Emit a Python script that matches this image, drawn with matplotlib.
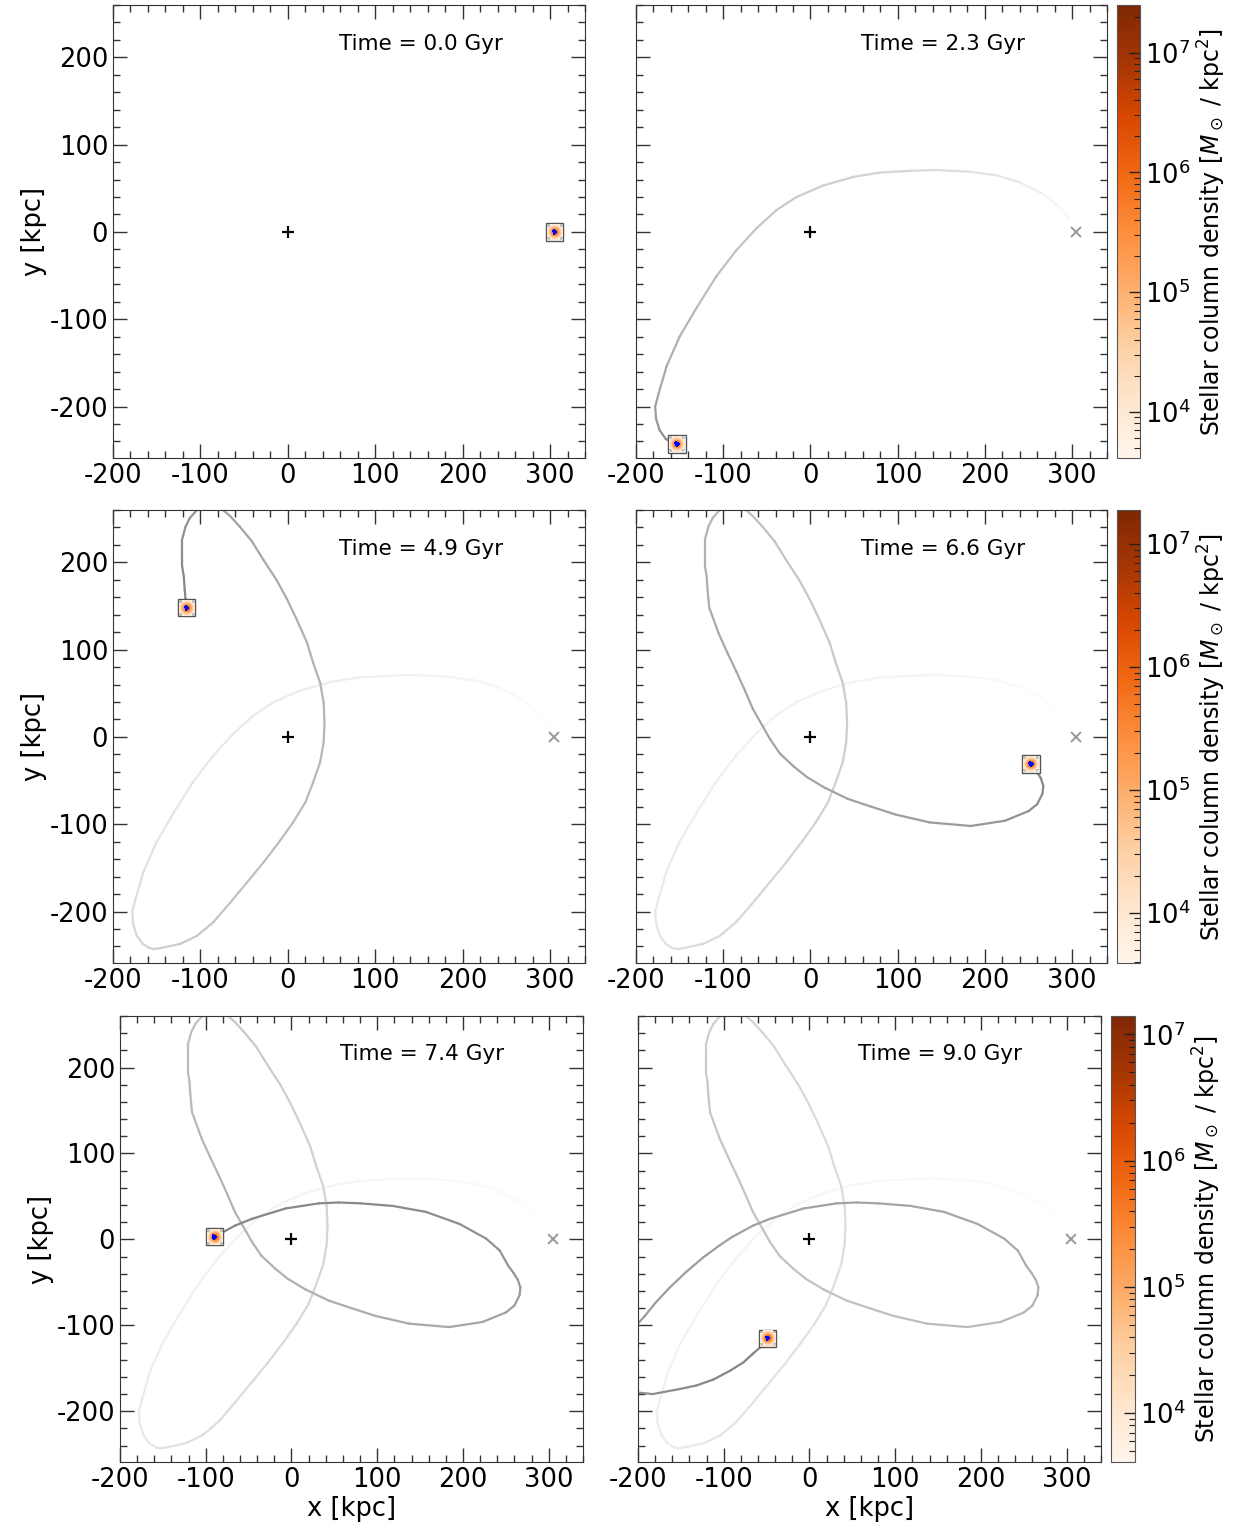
import numpy as np
import matplotlib
matplotlib.use("Agg")
import matplotlib.pyplot as plt
from matplotlib.colors import LogNorm
from matplotlib.collections import LineCollection
from matplotlib.patches import Rectangle
from matplotlib.ticker import MultipleLocator, LogLocator
import matplotlib.cm as cm

plt.rcParams['font.family'] = ['DejaVu Sans']
plt.rcParams['axes.unicode_minus'] = False
plt.rcParams['mathtext.fontset'] = 'dejavusans'

# ---------------- data ----------------
snap_times = [0.0, 2.3, 4.9, 6.6, 7.4, 9.0]

orbit_t = [0.00, 0.15, 0.29, 0.44, 0.59, 0.71, 0.80, 0.90, 0.96, 1.03, 1.09, 1.15, 1.20,
           1.24, 1.28, 1.34, 1.41, 1.50, 1.58, 1.69, 1.81, 1.89, 1.98, 2.06, 2.15, 2.24, 2.30,
           2.36, 2.53, 2.65, 2.74, 2.82, 2.89, 2.96, 3.04, 3.09, 3.15, 3.19, 3.23, 3.27,
           3.30, 3.34, 3.38, 3.42, 3.47, 3.54, 3.60, 3.66, 3.75, 3.82, 3.91, 3.98, 4.03,
           4.07, 4.15, 4.24, 4.32, 4.42, 4.51, 4.60, 4.67, 4.73, 4.77, 4.82, 4.86, 4.90,
           4.97, 5.01, 5.05, 5.09, 5.13, 5.19, 5.22, 5.25, 5.28, 5.32, 5.37, 5.42, 5.48,
           5.58, 5.72, 5.91, 6.09, 6.20, 6.32, 6.40, 6.48, 6.54, 6.60,
           6.73, 6.82, 6.95, 7.05, 7.12, 7.17, 7.20, 7.23, 7.29, 7.34, 7.36, 7.40,
           7.43, 7.48, 7.53, 7.60, 7.66, 7.72, 7.76, 7.84, 7.94, 8.08, 8.22, 8.31, 8.37,
           8.49, 8.65, 8.74, 8.82, 8.89, 8.94, 8.96, 8.98, 9.00]
orbit_x = [305, 297, 285, 266, 240, 213, 182, 144, 114, 79, 49, 14, -16,
           -39, -62, -85, -108, -130, -150, -165, -174, -178, -177, -173, -166, -158, -153,
           -146, -123, -104, -85, -66, -47, -28, -9, 6, 20, 29, 37, 41,
           42, 41, 37, 29, 22, 10, -1, -13, -28, -41, -55, -66, -74,
           -80, -89, -98, -104, -112, -117, -121, -121, -121, -119, -118, -117, -116,
           -105, -95, -85, -75, -66, -46, -35, -19, -4, 16, 43, 70, 98,
           137, 184, 223, 250, 260, 266, 267, 264, 259, 253,
           243, 227, 196, 157, 118, 80, 55, 32, -7, -46, -66, -90,
           -105, -124, -144, -163, -179, -192, -202, -212, -220, -223, -218, -210, -202,
           -183, -151, -132, -112, -93, -77, -66, -58, -49]
orbit_y = [0, 15, 29, 44, 57, 65, 69, 71, 70, 68, 63, 53, 40,
           25, 4, -21, -51, -86, -120, -154, -185, -200, -214, -227, -237, -242, -243,
           -242, -237, -228, -212, -190, -167, -144, -119, -98, -75, -52, -29, -6,
           16, 39, 62, 85, 108, 135, 158, 180, 203, 224, 241, 253, 260,
           265, 268, 265, 260, 251, 241, 226, 211, 196, 184, 169, 158, 148,
           118, 96, 75, 53, 32, -3, -19, -34, -46, -58, -71, -80, -89,
           -98, -102, -96, -85, -77, -65, -56, -47, -39, -31,
           -13, 1, 18, 32, 39, 42, 43, 42, 36, 24, 16, 3,
           -7, -21, -38, -56, -73, -89, -100, -116, -135, -155, -170, -177, -178,
           -180, -174, -170, -163, -153, -143, -133, -126, -115]

start_pos = [305, 0]
host_pos = [0, 0]

cbar_ranges = [(4.1e3, 2.5e7), (3.9e3, 1.9e7), (4.1e3, 1.4e7)]

blob_density = [
    [3e3, 6e3, 1.0e4, 1.3e4, 1.0e4, 6e3, 3e3],
    [6e3, 2.0e4, 6e4, 1.0e5, 6e4, 2.0e4, 6e3],
    [1.0e4, 6e4, 4e5, 9e5, 4e5, 6e4, 1.0e4],
    [1.3e4, 1.0e5, 9e5, 3e6, 9e5, 1.0e5, 1.3e4],
    [1.0e4, 6e4, 4e5, 9e5, 4e5, 6e4, 1.0e4],
    [6e3, 2.0e4, 6e4, 1.0e5, 6e4, 2.0e4, 6e3],
    [3e3, 6e3, 1.0e4, 1.3e4, 1.0e4, 6e3, 3e3]]
star_dx = [-2.0, -1.0, 0.0, 1.0, 2.0, 0.0, -1.0, 1.0]
star_dy = [1.0, 2.0, 0.0, -1.0, 0.0, -2.0, -1.0, 1.0]

x_ticks = [-200, -100, 0, 100, 200, 300]
y_ticks = [-200, -100, 0, 100, 200]

# ---------------- layout ----------------
W, H = 1243, 1534
fig = plt.figure(figsize=(W / 100, H / 100), dpi=100)


def px(x0, x1, y0, y1):
    return [x0 / W, 1 - y1 / H, (x1 - x0) / W, (y1 - y0) / H]


rows_y = [(5, 458), (510, 963), (1016, 1462)]
cols_x = [[(113, 585), (636, 1107), (1117, 1140)],
          [(113, 585), (636, 1107), (1117, 1140)],
          [(120, 583), (638, 1101), (1111, 1135)]]

ot = np.array(orbit_t)
ox = np.array(orbit_x, dtype=float)
oy = np.array(orbit_y, dtype=float)
cmap = plt.get_cmap('Oranges')

for r in range(3):
    y0, y1 = rows_y[r]
    norm = LogNorm(vmin=cbar_ranges[r][0], vmax=cbar_ranges[r][1])
    for c in range(2):
        k = 2 * r + c
        T = snap_times[k]
        x0, x1 = cols_x[r][c]
        ax = fig.add_axes(px(x0, x1, y0, y1))

        sel = ot <= T + 1e-6
        px_, py_, pt_ = ox[sel], oy[sel], ot[sel]
        if len(px_) > 1:
            pts = np.column_stack([px_, py_]).reshape(-1, 1, 2)
            segs = np.concatenate([pts[:-1], pts[1:]], axis=1)
            tmid = 0.5 * (pt_[:-1] + pt_[1:])
            alpha = 0.48 * (tmid / T) ** 1.3
            grey = 1.0 - alpha
            cols = np.column_stack([grey, grey, grey, np.ones_like(grey)])
            lc = LineCollection(segs, colors=cols, linewidths=1.6, capstyle='round',
                                joinstyle='round', zorder=2)
            ax.add_collection(lc)

        ax.plot(host_pos[0], host_pos[1], marker='+', color='k', ms=8, mew=1.6,
                ls='none', zorder=3)
        ax.plot(start_pos[0], start_pos[1], marker='x', color='#999999', ms=7,
                mew=1.4, ls='none', zorder=3)

        sx, sy = px_[-1], py_[-1]
        half = 10
        ax.add_patch(Rectangle((sx - half, sy - half), 2 * half, 2 * half,
                               facecolor='white', edgecolor='#555555', lw=1.0, zorder=4))
        bd = np.ma.masked_less(np.array(blob_density), cbar_ranges[r][0])
        ax.imshow(bd, cmap=cmap, norm=norm, extent=[sx - 9, sx + 9, sy - 9, sy + 9],
                  origin='lower', interpolation='bilinear', zorder=5)
        ax.plot(sx + np.array(star_dx), sy + np.array(star_dy), 's', color='blue',
                ms=2.0, mew=0, zorder=6)
        ax.set_xlim(-200, 340)
        ax.set_ylim(-259, 260)
        ax.set_aspect('auto')

        ax.set_xticks(x_ticks)
        ax.set_yticks(y_ticks)
        ax.xaxis.set_minor_locator(MultipleLocator(20))
        ax.yaxis.set_minor_locator(MultipleLocator(20))
        ax.tick_params(which='both', direction='in', top=True, right=True,
                       labelsize=18.5, width=1.0, color='#333333')
        ax.tick_params(which='major', length=10)
        ax.tick_params(which='minor', length=5)
        for sp in ax.spines.values():
            sp.set_color('#333333')
        if c == 1:
            ax.set_yticklabels([])
        else:
            ax.set_ylabel('y [kpc]', fontsize=18.5, labelpad=2)
        if r == 2:
            ax.set_xlabel('x [kpc]', fontsize=18.5, labelpad=2)
        ax.text(0.652, 0.914, f'Time = {T:.1f} Gyr', transform=ax.transAxes,
                ha='center', va='center', fontsize=15.5)

    cx0, cx1 = cols_x[r][2]
    cax = fig.add_axes(px(cx0, cx1, y0, y1))
    sm = cm.ScalarMappable(norm=norm, cmap=cmap)
    cb = fig.colorbar(sm, cax=cax)
    cb.ax.yaxis.set_major_locator(LogLocator(base=10))
    cb.ax.tick_params(which='both', direction='in', labelsize=18.5, color='#222222')
    cb.ax.tick_params(which='major', length=8, width=1.0)
    cb.ax.tick_params(which='minor', length=4, width=0.8)
    cb.outline.set_edgecolor('#555555')
    cb.set_label(r'Stellar column density [$M_\odot$ / kpc$^2$]', fontsize=17, labelpad=4)

fig.savefig('out.png', dpi=100)
